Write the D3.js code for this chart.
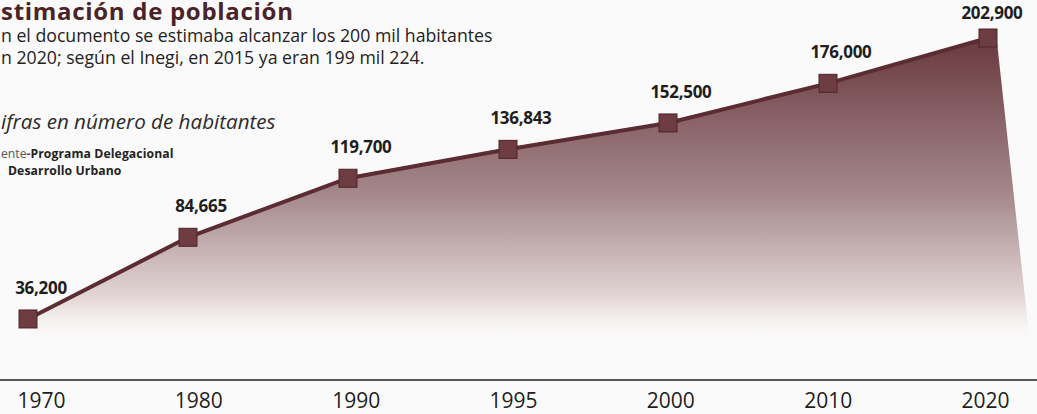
<!DOCTYPE html>
<html>
<head>
<meta charset="utf-8">
<script src="https://cdn.jsdelivr.net/npm/d3@7"></script>
<style>
  html, body { margin: 0; padding: 0; background: #fbfafa; }
  svg { display: block; font-family: "Open Sans", Lato, sans-serif; }
</style>
</head>
<body>
<div id="chart"></div>
<script>
const W = 1037;
const H = 414;

// data
const years = ["1970", "1980", "1990", "1995", "2000", "2010", "2020"];
const population = [36200, 84665, 119700, 136843, 152500, 176000, 202900];
const valueLabels = ["36,200", "84,665", "119,700", "136,843", "152,500", "176,000", "202,900"];

// the scan is cropped on the left, so the first letters are missing
const title = "stimación de población";
const subtitle = [
    "n el documento se estimaba alcanzar los 200 mil habitantes",
    "n 2020; según el Inegi, en 2015 ya eran 199 mil 224."
];
const unitNote = "ifras en número de habitantes";
const source = ["ente", "-", "Programa Delegacional", "Desarrollo Urbano"];

const data = years.map((d, i) => ({ year: d, value: population[i], label: valueLabels[i] }));

const x = d3.scalePoint().domain(years).range([28, 988]);
const xLabel = d3.scalePoint().domain(years).range([41, 985]);
const y = d3.scaleLinear().domain([0, 202900]).range([380, 38]);

const svg = d3.select("#chart")
    .append("svg")
    .attr("width", W)
    .attr("height", H);

const defs = svg.append("defs");
const grad = defs.append("linearGradient")
    .attr("id", "fade")
    .attr("gradientUnits", "userSpaceOnUse")
    .attr("x1", 0).attr("x2", 0)
    .attr("y1", 40).attr("y2", 345);
grad.append("stop").attr("offset", 0).attr("stop-color", "#6a3a40");
grad.append("stop").attr("offset", 0.5).attr("stop-color", "#a4878a");
grad.append("stop").attr("offset", 0.85).attr("stop-color", "#e4d7d7");
grad.append("stop").attr("offset", 1).attr("stop-color", "#fbfafa").attr("stop-opacity", 0);

const addText = (txt, px, py, size, weight, style, fill) =>
    svg.append("text")
        .attr("x", px)
        .attr("y", py)
        .attr("font-size", size)
        .attr("font-weight", weight)
        .attr("font-style", style)
        .attr("fill", fill)
        .text(txt);

addText(title, 1, 20, 24, 700, "normal", "#4a2328").attr("letter-spacing", 0.7);

// subtitle as one block of two lines
const sub = svg.append("text")
    .attr("font-size", 17.7)
    .attr("fill", "#222");
sub.selectAll("tspan")
    .data(subtitle)
    .enter()
    .append("tspan")
    .attr("x", 1)
    .attr("y", (d, i) => 42 + i * 22)
    .text(d => d);

addText(unitNote, 1, 129, 20.6, 400, "italic", "#2a2a2a");

// source, two lines
const src = svg.append("text")
    .attr("x", 1)
    .attr("y", 158)
    .attr("font-size", 12.2)
    .attr("fill", "#222");
src.append("tspan").attr("fill", "#555").text(source[0]);
src.append("tspan").attr("fill", "#7a3b42").attr("font-weight", 700).text(source[1]);
src.append("tspan").attr("font-weight", 700).attr("letter-spacing", 0.1).text(source[2]);
addText(source[3], 8, 175, 12.2, 700, "normal", "#222")
    .attr("letter-spacing", 0.1);

// area
const last = data[data.length - 1];
const areaPts = data.map(d => [x(d.year), y(d.value)]);
areaPts.push([x(last.year) + 9, y(last.value) + 4]);
areaPts.push([x(last.year) + 46, y(0)]);
areaPts.push([x(years[0]), y(0)]);
svg.append("path")
    .attr("d", d3.line()(areaPts) + "Z")
    .attr("fill", "url(#fade)");

// axis line
svg.append("line")
    .attr("x1", 0).attr("x2", W)
    .attr("y1", y(0)).attr("y2", y(0))
    .attr("stroke", "#555")
    .attr("stroke-width", 2);

const axis = svg.append("g")
    .attr("transform", "translate(0," + y(0) + ")")
    .call(d3.axisBottom(xLabel).tickSize(0).tickPadding(13));
axis.select(".domain").remove();
axis.selectAll("text")
    .attr("font-family", "'Open Sans', Lato, sans-serif")
    .attr("font-size", 21)
    .attr("fill", "#1e1e1e");

// line
svg.append("path")
    .datum(data)
    .attr("d", d3.line().x(d => x(d.year)).y(d => y(d.value)))
    .attr("fill", "none")
    .attr("stroke", "#5b2c31")
    .attr("stroke-width", 4);

// markers
svg.append("g")
    .selectAll("rect")
    .data(data)
    .enter()
    .append("rect")
    .attr("x", d => x(d.year) - 9)
    .attr("y", d => y(d.value) - 9)
    .attr("width", 18)
    .attr("height", 18)
    .attr("fill", "#6e3d42")
    .attr("stroke", "#4e2428")
    .attr("stroke-width", 1);

// value labels
svg.append("g")
    .selectAll("text")
    .data(data)
    .enter()
    .append("text")
    .attr("x", d => Math.min(x(d.year) + 13, W - 45))
    .attr("y", d => Math.max(y(d.value) - 25, 19))
    .attr("text-anchor", "middle")
    .attr("font-size", 17)
    .attr("font-weight", 700)
    .attr("letter-spacing", -0.3)
    .attr("fill", "#1e1e1e")
    .text(d => d.label);
</script>
</body>
</html>
